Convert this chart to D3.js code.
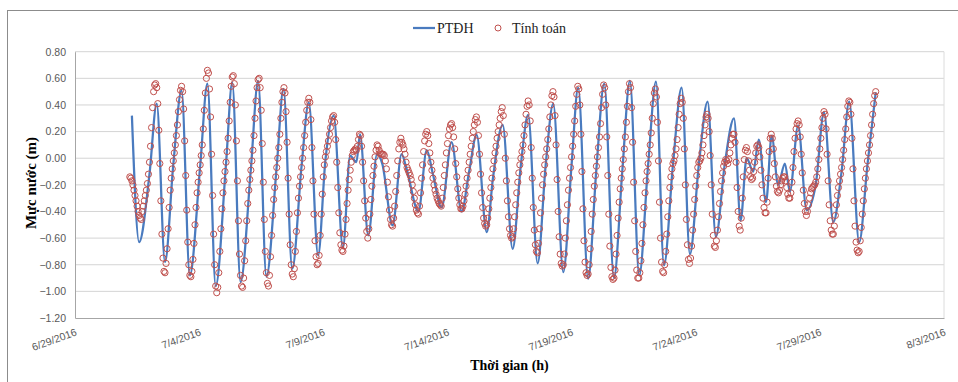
<!DOCTYPE html>
<html>
<head>
<meta charset="utf-8">
<script src="https://cdn.jsdelivr.net/npm/d3@7"></script>
<style>
  body { margin: 0; background: #fff; }
  .tick-label { font-family: "Liberation Sans", Arial, sans-serif; font-size: 10.5px; fill: #595959; }
  .axis-title { font-family: "Liberation Serif", "Times New Roman", serif; font-size: 14px; font-weight: bold; fill: #000; }
  .legend-text { font-family: "Liberation Serif", "Times New Roman", serif; font-size: 14px; fill: #222; }
</style>
</head>
<body>
<div id="chart"></div>
<script>
// PTĐH (measured) turning points: hours after 7/1/2016 00:00, level in m
const ptdhHours = [7, 14, 24, 31, 39, 47, 55, 63, 73, 80, 88, 98, 104, 112, 122, 129, 137, 147, 153.5, 162,
  171, 178, 187, 194, 202, 211, 218, 224, 227.5, 235.5, 244, 249, 259, 267.7, 272.5, 284, 292, 298, 306.4, 316,
  325.7, 333, 340.2, 350, 356, 365.4, 375, 383, 390, 399.2, 407, 414.3, 424, 432, 438.4, 448, 456, 463.6, 473,
  481, 488.4, 497.4, 506, 513.6, 521.3, 530, 538.4, 546.4, 555, 563.5, 571.5, 580, 589, 595.4, 601.2, 607.6,
  613, 620, 625.4, 631.7, 638.2, 643, 651, 659.2, 668, 676, 685, 693, 700.4, 710, 718, 726];
const ptdhValues = [0.32, -0.63, -0.12, 0.41, -0.78, -0.05, 0.51, -0.88, -0.06, 0.56, -0.96, -0.04, 0.57, -0.93, -0.08, 0.58, -0.89, -0.06, 0.52, -0.83,
  -0.06, 0.42, -0.73, -0.02, 0.32, -0.67, 0.02, -0.03, 0.18, -0.58, 0.03, -0.04, -0.505, 0.03, -0.08, -0.40, 0.06, -0.12, -0.37, 0.12,
  -0.40, -0.10, 0.175, -0.555, -0.15, 0.25, -0.68, -0.05, 0.325, -0.79, -0.05, 0.41, -0.855, -0.05, 0.53, -0.905, -0.08, 0.56, -0.90,
  -0.10, 0.58, -0.88, -0.05, 0.575, -0.805, -0.05, 0.53, -0.72, -0.05, 0.425, -0.59, -0.05, 0.30, -0.47, 0.00, -0.10,
  0.14, -0.33, 0.17, -0.20, -0.04, -0.25, 0.245, -0.39, -0.20, 0.345, -0.48, -0.10, 0.425, -0.63, -0.05, 0.495];

// Tính toán (computed) hourly values, first value at hour 5 of 7/1/2016
const tinhToanStartHour = 5;
const tinhToanValues = [
  -0.14, -0.15, -0.17, -0.20, -0.24, -0.28, -0.32, -0.36, -0.40, -0.43, -0.45, -0.46,
  -0.40, -0.36, -0.32, -0.28, -0.24, -0.19, -0.12, -0.03, 0.09, 0.23, 0.38, 0.50, 0.55, 0.56,
  0.53, 0.41, 0.21, -0.04, -0.32, -0.57, -0.75, -0.85, -0.86,
  -0.79, -0.68, -0.53, -0.37, -0.24, -0.15, -0.08, -0.02, 0.04, 0.10, 0.17, 0.25, 0.35, 0.44, 0.51, 0.54,
  0.50, 0.37, 0.13, -0.13, -0.39, -0.63, -0.80, -0.88, -0.89,
  -0.85, -0.76, -0.64, -0.50, -0.37, -0.26, -0.18, -0.11, -0.05, 0.02, 0.10, 0.22, 0.36, 0.49, 0.60, 0.66,
  0.64, 0.52, 0.31, 0.03, -0.28, -0.57, -0.80, -0.96, -1.01,
  -0.97, -0.86, -0.70, -0.53, -0.38, -0.26, -0.17, -0.10, -0.03, 0.05, 0.15, 0.28, 0.42, 0.54, 0.61, 0.62,
  0.56, 0.40, 0.13, -0.17, -0.47, -0.72, -0.88, -0.96, -0.97,
  -0.90, -0.77, -0.62, -0.47, -0.34, -0.24, -0.16, -0.09, -0.02, 0.06, 0.17, 0.30, 0.43, 0.53, 0.59, 0.60,
  0.53, 0.36, 0.11, -0.18, -0.46, -0.70, -0.86, -0.94, -0.96,
  -0.88, -0.74, -0.58, -0.43, -0.31, -0.22, -0.14, -0.07, 0.00, 0.08, 0.18, 0.30, 0.42, 0.50, 0.53,
  0.49, 0.35, 0.12, -0.15, -0.42, -0.65, -0.80, -0.87, -0.89,
  -0.83, -0.70, -0.55, -0.41, -0.30, -0.21, -0.14, -0.07, 0.00, 0.08, 0.17, 0.27, 0.36, 0.42, 0.45,
  0.42, 0.29, 0.08, -0.17, -0.42, -0.62, -0.74, -0.80, -0.79,
  -0.73, -0.58, -0.42, -0.27, -0.14, -0.05, 0.01, 0.05, 0.09, 0.13, 0.18, 0.23, 0.28, 0.31, 0.32,
  0.27, 0.14, -0.03, -0.22, -0.41, -0.56, -0.65, -0.69, -0.70,
  -0.66, -0.57, -0.46, -0.34, -0.24, -0.16, -0.09, -0.03, 0.02, 0.05, 0.06, 0.07, 0.06, 0.09, 0.14, 0.18,
  0.17, 0.09, -0.03, -0.17, -0.32, -0.45, -0.55, -0.60,
  -0.53, -0.42, -0.31, -0.21, -0.13, -0.06, 0.01, 0.06, 0.10, 0.09, 0.06, 0.04, 0.03, 0.03, 0.03, 0.02,
  -0.02, -0.08, -0.18, -0.29, -0.39, -0.46, -0.50, -0.51,
  -0.45, -0.36, -0.25, -0.13, -0.02, 0.07, 0.12, 0.15,
  0.12, 0.10, 0.07, 0.03, -0.03, -0.07, -0.09, -0.11, -0.13, -0.16, -0.20, -0.25, -0.30, -0.35, -0.39, -0.41, -0.42,
  -0.36, -0.26, -0.15, -0.05, 0.05, 0.13, 0.18, 0.20,
  0.17, 0.11, 0.04, -0.03, -0.09, -0.15, -0.20, -0.24, -0.27, -0.30, -0.32, -0.34, -0.35, -0.36,
  -0.30, -0.22, -0.13, -0.05, 0.04, 0.11, 0.17, 0.22, 0.25, 0.26,
  0.23, 0.16, 0.07, -0.04, -0.14, -0.23, -0.30, -0.35, -0.38, -0.38,
  -0.36, -0.32, -0.27, -0.21, -0.15, -0.09, -0.03, 0.03, 0.09, 0.15, 0.20, 0.25, 0.29, 0.31,
  0.27, 0.17, 0.03, -0.12, -0.26, -0.37, -0.45, -0.49, -0.51, -0.50,
  -0.45, -0.38, -0.30, -0.22, -0.15, -0.08, -0.02, 0.04, 0.09, 0.15, 0.20, 0.25, 0.30, 0.35, 0.38,
  0.32, 0.18, 0.00, -0.17, -0.32, -0.44, -0.53, -0.58, -0.60, -0.59,
  -0.53, -0.44, -0.35, -0.26, -0.18, -0.11, -0.05, 0.00, 0.05, 0.10, 0.17, 0.25, 0.33, 0.39, 0.43,
  0.40, 0.28, 0.08, -0.15, -0.37, -0.54, -0.65, -0.70, -0.71,
  -0.64, -0.53, -0.41, -0.30, -0.20, -0.12, -0.05, 0.01, 0.07, 0.14, 0.22, 0.31, 0.40, 0.47, 0.50,
  0.46, 0.32, 0.10, -0.16, -0.40, -0.59, -0.72, -0.79, -0.81, -0.80,
  -0.72, -0.60, -0.47, -0.35, -0.24, -0.15, -0.07, 0.01, 0.09, 0.18, 0.28, 0.39, 0.48, 0.54,
  0.52, 0.40, 0.18, -0.10, -0.38, -0.62, -0.78, -0.86, -0.88, -0.87,
  -0.80, -0.68, -0.55, -0.42, -0.31, -0.21, -0.13, -0.06, 0.01, 0.08, 0.16, 0.26, 0.38, 0.48, 0.55,
  0.53, 0.40, 0.16, -0.13, -0.42, -0.66, -0.82, -0.89, -0.91, -0.90,
  -0.84, -0.72, -0.58, -0.45, -0.33, -0.23, -0.15, -0.08, -0.01, 0.07, 0.16, 0.27, 0.39, 0.50, 0.56,
  0.53, 0.38, 0.12, -0.18, -0.47, -0.70, -0.84, -0.90, -0.90,
  -0.86, -0.77, -0.64, -0.50, -0.37, -0.26, -0.17, -0.10, -0.04, 0.03, 0.10, 0.19, 0.30, 0.41, 0.49, 0.52,
  0.46, 0.27, -0.02, -0.33, -0.60, -0.78, -0.85, -0.86,
  -0.80, -0.70, -0.57, -0.44, -0.32, -0.22, -0.14, -0.08, -0.04, -0.02, 0.02, 0.07, 0.14, 0.23, 0.33, 0.41, 0.45,
  0.42, 0.30, 0.07, -0.20, -0.46, -0.65, -0.76, -0.79,
  -0.75, -0.66, -0.54, -0.42, -0.31, -0.21, -0.13, -0.07, -0.03, -0.02, 0.00, 0.04, 0.10, 0.17, 0.25, 0.31, 0.33,
  0.30, 0.20, 0.02, -0.20, -0.42, -0.58, -0.66, -0.67,
  -0.62, -0.54, -0.44, -0.34, -0.25, -0.17, -0.11, -0.06, -0.03, -0.01, -0.02, -0.04, -0.01, 0.04, 0.10, 0.15, 0.18, 0.18,
  0.12, -0.03, -0.22, -0.40, -0.51, -0.54,
  -0.45, -0.30, -0.14, -0.01, 0.06, 0.08, 0.05, -0.02, -0.09, -0.14, -0.16, -0.15, -0.10, -0.03, 0.04, 0.09, 0.10, 0.08,
  0.01, -0.09, -0.20, -0.30, -0.37, -0.41, -0.41,
  -0.33, -0.15, 0.05, 0.15, 0.18, 0.15, 0.07, -0.04, -0.14, -0.21, -0.25, -0.26, -0.24, -0.20, -0.17, -0.15, -0.14, -0.14,
  -0.17, -0.22, -0.27, -0.30, -0.30, -0.26, -0.18, -0.07, 0.05, 0.15, 0.22, 0.26, 0.28, 0.25, 0.16, 0.03, -0.11, -0.24,
  -0.34, -0.40, -0.43,
  -0.40, -0.35, -0.30, -0.26, -0.23, -0.22, -0.21, -0.20, -0.18, -0.14, -0.08, -0.01, 0.07, 0.15, 0.23, 0.30, 0.35,
  0.33, 0.22, 0.03, -0.17, -0.35, -0.47, -0.54, -0.57, -0.57,
  -0.51, -0.43, -0.35, -0.28, -0.22, -0.17, -0.12, -0.07, -0.01, 0.06, 0.14, 0.22, 0.31, 0.39, 0.43,
  0.42, 0.33, 0.15, -0.08, -0.32, -0.51, -0.63, -0.69, -0.71, -0.70,
  -0.62, -0.52, -0.42, -0.32, -0.23, -0.15, -0.08, -0.02, 0.04, 0.10, 0.17, 0.25, 0.33, 0.41, 0.47, 0.50
];

const xTickLabels = ["6/29/2016", "7/4/2016", "7/9/2016", "7/14/2016", "7/19/2016", "7/24/2016", "7/29/2016", "8/3/2016"];
const yTicks = [-1.2, -1.0, -0.8, -0.6, -0.4, -0.2, 0, 0.2, 0.4, 0.6, 0.8];
const legendItems = ["PTĐH", "Tính toán"];

const W = 958, H = 382;
const margin = {top: 51.7, right: 14, bottom: 64, left: 75};

const blue = "#4a7bbf";
const red = "#c0504d";

const parseTick = d3.timeParse("%m/%d/%Y");
const formatTick = d3.timeFormat("%-m/%-d/%Y");
const t0 = new Date(2016, 6, 1);
const atHour = h => new Date(+t0 + h * 3600e3);

const xDates = xTickLabels.map(parseTick);

const svg = d3.select("#chart").append("svg")
  .attr("width", W)
  .attr("height", H);

// outer chart border
svg.append("rect")
  .attr("x", 7.5).attr("y", 10.5)
  .attr("width", 1000).attr("height", 500)
  .attr("fill", "none")
  .attr("stroke", "#8c8c8c");

let xScale = d3.scaleTime()
  .domain(d3.extent(xDates))
  .range([margin.left, W - margin.right]);

let yScale = d3.scaleLinear()
  .domain([-1.2, 0.8])
  .range([H - margin.bottom, margin.top]);

// gridlines
svg.append("g")
  .selectAll("line")
  .data(yTicks.filter(d => d > -1.2))
  .enter().append("line")
  .attr("x1", xScale.range()[0])
  .attr("x2", xScale.range()[1])
  .attr("y1", d => yScale(d))
  .attr("y2", d => yScale(d))
  .attr("stroke", "#d4d4d4")
  .attr("stroke-width", 1);

// right edge of plot
svg.append("line")
  .attr("x1", xScale.range()[1]).attr("x2", xScale.range()[1])
  .attr("y1", yScale(0.8)).attr("y2", yScale(-1.2))
  .attr("stroke", "#dcdcdc");

// y axis
let yaxis = svg.append("g")
  .attr("transform", "translate(" + margin.left + ",0)")
  .call(d3.axisLeft(yScale).tickValues(yTicks).tickSize(0).tickPadding(9).tickFormat(d3.format(".2f")));
yaxis.select(".domain").attr("stroke", "#a6a6a6");
yaxis.selectAll("text").attr("class", "tick-label").attr("font-family", null).attr("font-size", null);

// x axis
let xaxis = svg.append("g")
  .attr("transform", "translate(0," + yScale(-1.2) + ")")
  .call(d3.axisBottom(xScale).tickValues(xDates).tickSize(0).tickFormat(formatTick));
xaxis.select(".domain").attr("stroke", "#a6a6a6");
xaxis.selectAll("text")
  .attr("class", "tick-label")
  .attr("font-family", null).attr("font-size", null)
  .attr("dy", null).attr("y", 0)
  .style("text-anchor", "end")
  .attr("transform", "translate(2,17) rotate(-20)");

// measured line
let line = d3.line()
  .x((d, i) => xScale(atHour(ptdhHours[i])))
  .y(d => yScale(d))
  .curve(d3.curveMonotoneX);

svg.append("path")
  .datum(ptdhValues)
  .attr("fill", "none")
  .attr("stroke", blue)
  .attr("stroke-width", 2.25)
  .attr("stroke-linejoin", "round")
  .attr("d", line);

// computed points
svg.append("g")
  .selectAll("circle")
  .data(tinhToanValues)
  .enter().append("circle")
  .attr("cx", (d, i) => xScale(atHour(tinhToanStartHour + i)))
  .attr("cy", d => yScale(d))
  .attr("r", 3.1)
  .attr("fill", "none")
  .attr("stroke", red)
  .attr("stroke-width", 1);

// axis titles
svg.append("text")
  .attr("class", "axis-title")
  .attr("x", (xScale.range()[0] + xScale.range()[1]) / 2)
  .attr("y", 370)
  .attr("text-anchor", "middle")
  .text("Thời gian (h)");

svg.append("text")
  .attr("class", "axis-title")
  .style("font-size", "15px")
  .attr("transform", "translate(36,183) rotate(-90)")
  .attr("text-anchor", "middle")
  .text("Mực nước (m)");

// legend
let legend = svg.append("g").attr("transform", "translate(413,28)");
legend.append("line")
  .attr("x1", 0).attr("x2", 22).attr("y1", 0).attr("y2", 0)
  .attr("stroke", blue).attr("stroke-width", 2.25);
legend.append("text").attr("class", "legend-text")
  .attr("x", 24).attr("y", 5).text(legendItems[0]);
legend.append("circle")
  .attr("cx", 85).attr("cy", 0).attr("r", 3)
  .attr("fill", "none").attr("stroke", red).attr("stroke-width", 1);
legend.append("text").attr("class", "legend-text")
  .attr("x", 99).attr("y", 5).text(legendItems[1]);
</script>
</body>
</html>
